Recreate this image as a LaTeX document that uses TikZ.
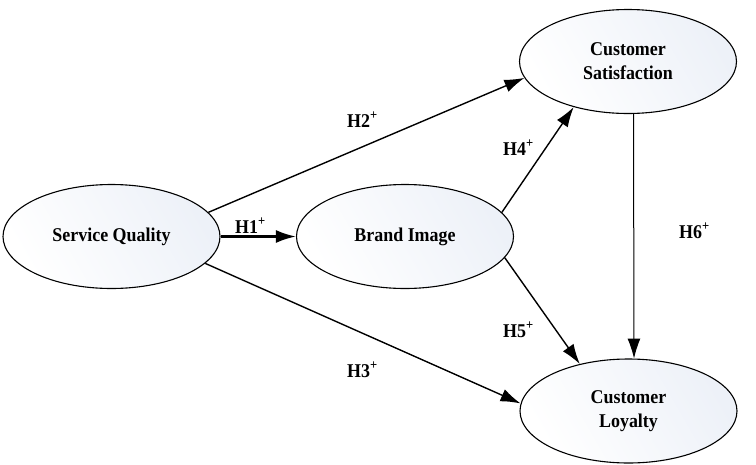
\documentclass[tikz,border=0pt]{standalone}
\usepackage{fontspec}
\setmainfont{Liberation Serif}[FakeStretch=0.92]
\usepackage{tikz}
\usetikzlibrary{arrows.meta,shapes.geometric}
\usepackage{xcolor}
\definecolor{ModelInk}{HTML}{000000}
\definecolor{ModelTint}{HTML}{EDF1F8}
\definecolor{ModelSurface}{HTML}{FFFFFF}
\tikzset{
  construct/.style={ellipse,draw=ModelInk,line width=1.1pt,left color=ModelTint,right color=ModelSurface,
    shading angle=-60,minimum width=217pt,minimum height=104pt,inner sep=0pt,align=center,
    font=\fontsize{19.5}{24}\selectfont\bfseries},
  hyparrow/.style={-{Latex[length=20pt,width=13pt]},line width=1.4pt,draw=ModelInk},
  hyplabel/.style={anchor=base west,inner sep=0pt,font=\fontsize{19.5}{20}\selectfont\bfseries}
}

\begin{document}
\begin{tikzpicture}[x=1pt,y=-1pt]
  \useasboundingbox (0,0) rectangle (756,464);
  % constructs
  \node[construct] (sq) at (111.5,236.5) {Service Quality};
  \node[construct] (bi) at (405,236.5) {Brand Image};
  \node[construct] (cs) at (628,61.5) {Customer\\Satisfaction};
  \node[construct] (cl) at (628.5,411) {Customer\\Loyalty};
  % hypotheses
  \draw[hyparrow,line width=2.4pt] (sq.east) -- (bi.west);
  \draw[hyparrow] (sq.14) -- (cs.189);
  \draw[hyparrow] (sq.-16) -- (cl.176);
  \draw[hyparrow] (bi.14) -- (cs.220);
  \draw[hyparrow] (bi.-12) -- (cl.136);
  \draw[hyparrow,line width=1pt] (cs.-84) -- (cl.84);
  \node[hyplabel] (h1) at (235,233) {H1\textsuperscript{+}};
  \node[hyplabel] (h2) at (347,127) {H2\textsuperscript{+}};
  \node[hyplabel] (h3) at (347,377) {H3\textsuperscript{+}};
  \node[hyplabel] (h4) at (503,155) {H4\textsuperscript{+}};
  \node[hyplabel] (h5) at (503,337) {H5\textsuperscript{+}};
  \node[hyplabel] (h6) at (679,238) {H6\textsuperscript{+}};
\end{tikzpicture}
\end{document}
